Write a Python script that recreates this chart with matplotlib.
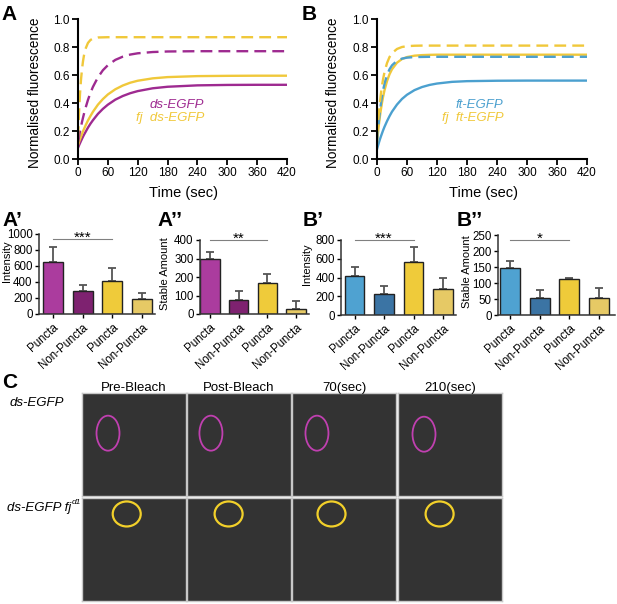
import matplotlib
matplotlib.use('Agg')
import matplotlib.pyplot as plt
from matplotlib.patches import Ellipse
from matplotlib.transforms import offset_copy
import numpy as np

plt.rcParams['font.family'] = ['Liberation Sans', 'DejaVu Sans']

# ---------------- data ----------------
time_s = [0, 2, 4, 6, 8, 10, 12, 15, 20, 25, 30, 40, 50, 60, 75, 90, 105, 120,
          150, 180, 240, 300, 360, 420]

# Panel A
ds_prebleach = [0.080, 0.097, 0.113, 0.129, 0.144, 0.159, 0.173, 0.192, 0.224, 0.252,
                0.277, 0.322, 0.358, 0.388, 0.424, 0.450, 0.470, 0.485, 0.505, 0.516,
                0.526, 0.529, 0.530, 0.530]
fj_ds_prebleach = [0.100, 0.121, 0.141, 0.160, 0.179, 0.197, 0.214, 0.238, 0.275, 0.307,
                   0.337, 0.388, 0.428, 0.461, 0.498, 0.525, 0.545, 0.559, 0.576, 0.585,
                   0.592, 0.594, 0.595, 0.595]
ds_dashed = [0.120, 0.160, 0.197, 0.231, 0.264, 0.294, 0.323, 0.363, 0.422, 0.472,
             0.515, 0.583, 0.634, 0.670, 0.708, 0.731, 0.746, 0.755, 0.764, 0.768,
             0.770, 0.770, 0.770, 0.770]
fj_ds_dashed = [0.150, 0.329, 0.463, 0.565, 0.640, 0.697, 0.740, 0.786, 0.829, 0.850,
                0.860, 0.868, 0.869, 0.870, 0.870, 0.870, 0.870, 0.870, 0.870, 0.870,
                0.870, 0.870, 0.870, 0.870]

# Panel B
ft_solid = [0.070, 0.095, 0.119, 0.142, 0.163, 0.183, 0.203, 0.230, 0.270, 0.306,
            0.338, 0.389, 0.429, 0.459, 0.492, 0.514, 0.529, 0.539, 0.551, 0.556,
            0.559, 0.560, 0.560, 0.560]
ft_dashed = [0.120, 0.207, 0.282, 0.346, 0.400, 0.447, 0.488, 0.538, 0.599, 0.641,
             0.669, 0.702, 0.717, 0.724, 0.728, 0.729, 0.730, 0.730, 0.730, 0.730,
             0.730, 0.730, 0.730, 0.730]
fj_ft_solid = [0.120, 0.191, 0.253, 0.309, 0.358, 0.402, 0.441, 0.491, 0.556, 0.605,
               0.641, 0.688, 0.714, 0.728, 0.738, 0.742, 0.744, 0.745, 0.745, 0.745,
               0.745, 0.745, 0.745, 0.745]
fj_ft_dashed = [0.150, 0.252, 0.337, 0.409, 0.471, 0.523, 0.567, 0.621, 0.685, 0.728,
                0.756, 0.786, 0.800, 0.806, 0.809, 0.810, 0.810, 0.810, 0.810, 0.810,
                0.810, 0.810, 0.810, 0.810]

bar_categories = ['Puncta', 'Non-Puncta', 'Puncta', 'Non-Puncta']
a1_intensity = [650, 290, 410, 187]
a1_intensity_top = [838, 358, 577, 262]
a2_stable = [295, 74, 169, 29]
a2_stable_top = [333, 122, 214, 68]
b1_intensity = [411, 227, 570, 273]
b1_intensity_top = [515, 308, 722, 396]
b2_stable = [146, 52, 113, 52]
b2_stable_top = [169, 78, 115, 85]

col_titles = ['Pre-Bleach', 'Post-Bleach', '70(sec)', '210(sec)']

# ---------------- style ----------------
MAG = '#9E2A90'
YEL = '#F0C83A'
BLU = '#4BA0CF'
a_bar_colors = ['#AB3C9E', '#7E2270', '#EFCB3A', '#E6C965']
b_bar_colors = ['#4FA2D1', '#3B74A4', '#EFCB3A', '#E6C965']

W, H = 617, 604
fig = plt.figure(figsize=(W / 100, H / 100), dpi=100)


def rect(x0, y0, x1, y1):
    return [x0 / W, 1 - y1 / H, (x1 - x0) / W, (y1 - y0) / H]


def curve_panel(r, series, labels):
    ax = fig.add_axes(r)
    for y, c, dashed in series:
        if dashed:
            ax.plot(time_s, y, color=c, lw=1.7, dashes=(5, 2.6), solid_capstyle='butt')
        else:
            ax.plot(time_s, y, color=c, lw=1.7)
    ax.set_xlim(0, 420)
    ax.set_ylim(0, 1.0)
    ax.set_xticks(range(0, 421, 60))
    ax.set_yticks([0, 0.2, 0.4, 0.6, 0.8, 1.0])
    ax.set_yticklabels(['0.0', '0.2', '0.4', '0.6', '0.8', '1.0'])
    for s in ['top', 'right']:
        ax.spines[s].set_visible(False)
    for s in ['left', 'bottom']:
        ax.spines[s].set_linewidth(1.5)
    ax.tick_params(direction='out', length=4, width=1.3, labelsize=8.5, pad=2)
    ax.set_xlabel('Time (sec)', fontsize=10.5)
    ax.set_ylabel('Normalised fluorescence', fontsize=9.8)
    ax.xaxis.set_label_coords(0.507, -0.243)
    ax.yaxis.set_label_coords(-0.208, 0.47)
    ax.xaxis.label.set_va('center')
    ax.yaxis.label.set_va('center')
    (t1, c1), (t2, c2) = labels
    ax.text(0.603, 0.386, t1, color=c1, style='italic', fontsize=9.5,
            ha='right', va='center', transform=ax.transAxes)
    ax.text(0.603, 0.293, t2, color=c2, style='italic', fontsize=9.5,
            ha='right', va='center', transform=ax.transAxes)
    return ax


curve_panel(rect(78, 19, 287, 159),
            [(ds_prebleach, MAG, False), (fj_ds_prebleach, YEL, False),
             (ds_dashed, MAG, True), (fj_ds_dashed, YEL, True)],
            [('ds-EGFP', MAG), ('fj  ds-EGFP', YEL)])
curve_panel(rect(377, 19, 587, 159),
            [(ft_solid, BLU, False), (fj_ft_solid, YEL, False),
             (ft_dashed, BLU, True), (fj_ft_dashed, YEL, True)],
            [('ft-EGFP', BLU), ('fj  ft-EGFP', YEL)])


def bar_panel(r, xlim, vals, tops, colors, ymax, ystep, ylabel, label_xy, stars, line_frac):
    ax = fig.add_axes(r)
    x = np.arange(len(vals))
    vals = np.array(vals, float)
    tops = np.array(tops, float)
    ax.errorbar(x, vals, yerr=[np.zeros(len(vals)), tops - vals], fmt='none',
                ecolor='#555555', elinewidth=1.3, capsize=3.2, capthick=1.3, zorder=1)
    ax.bar(x, vals, width=0.67, color=colors, edgecolor='#222222', linewidth=1.0, zorder=2)
    ax.set_xlim(*xlim)
    ax.set_ylim(0, ymax)
    ax.set_yticks(np.arange(0, ymax + 1e-9, ystep))
    ax.set_xticks(x)
    ax.set_xticklabels(bar_categories, rotation=42, ha='right', rotation_mode='anchor',
                       fontsize=7.8)
    for s in ['top', 'right']:
        ax.spines[s].set_visible(False)
    for s in ['left', 'bottom']:
        ax.spines[s].set_linewidth(1.1)
        ax.spines[s].set_color('#333333')
    ax.tick_params(direction='out', length=3, width=1.0, labelsize=8.3, pad=1.5)
    ax.tick_params(axis='x', pad=2.5)
    ax.set_ylabel(ylabel, fontsize=8)
    ax.yaxis.set_label_coords(*label_xy)
    ax.yaxis.label.set_va('center')
    ly = ymax * line_frac
    ax.plot([0, 2], [ly, ly], color='#808080', lw=0.8, clip_on=False)
    tr = offset_copy(ax.transData, fig=fig, x=0, y=-2.5, units='dots')
    ax.text(1, ly, stars, ha='center', va='baseline', fontsize=11,
            clip_on=False, transform=tr)
    return ax


bar_panel(rect(39, 234, 155, 314), (-0.47, 3.44), a1_intensity, a1_intensity_top,
          a_bar_colors, 1000, 200, 'Intensity', (-0.276, 0.66), '***', 0.94)
bar_panel(rect(200, 240, 309, 314), (-0.35, 3.45), a2_stable, a2_stable_top,
          a_bar_colors, 400, 100, 'Stable Amount', (-0.32, 0.55), '**', 1.0)
bar_panel(rect(341, 240, 456, 315), (-0.46, 3.44), b1_intensity, b1_intensity_top,
          b_bar_colors, 800, 200, 'Intensity', (-0.295, 0.68), '***', 1.0)
bar_panel(rect(498, 235, 615, 315), (-0.40, 3.54), b2_stable, b2_stable_top,
          b_bar_colors, 250, 50, 'Stable Amount', (-0.265, 0.54), '*', 0.94)

# ---------------- panel C (image panels) ----------------
col_left = [82, 187, 292, 398]
row_top = [393, 498]
img_w, img_h = 104, 103
mag_ellipse = [(0.25, 0.61), (0.23, 0.61), (0.24, 0.61), (0.25, 0.60)]
yel_ellipse = [(0.43, 0.845), (0.40, 0.845), (0.38, 0.845), (0.40, 0.845)]
for ci, cx in enumerate(col_left):
    for ri, ry in enumerate(row_top):
        ax = fig.add_axes(rect(cx, ry, cx + img_w, ry + img_h))
        ax.set_facecolor('#333333')
        ax.set_xticks([])
        ax.set_yticks([])
        for s in ax.spines.values():
            s.set_color('#c8c8c8')
            s.set_linewidth(1.0)
        if ri == 0:
            e = Ellipse(mag_ellipse[ci], 23 / img_w, 35 / img_h, transform=ax.transAxes,
                        fill=False, edgecolor='#C040B0', lw=1.3)
        else:
            e = Ellipse(yel_ellipse[ci], 28 / img_w, 25 / img_h, transform=ax.transAxes,
                        fill=False, edgecolor='#F2D02A', lw=1.6)
        ax.add_patch(e)
    fig.text((cx + img_w / 2) / W, 1 - 391 / H, col_titles[ci], ha='center',
             va='baseline', fontsize=9.5)

fig.text(10 / W, 1 - 403 / H, 'ds-EGFP', style='italic', fontsize=9.5, va='center')
t2 = fig.text(7 / W, 1 - 508 / H, 'ds-EGFP fj', style='italic', fontsize=9.5, va='center')
renderer = fig.canvas.get_renderer()
bb = t2.get_window_extent(renderer)
fig.text(bb.x1 / W + 0.001, 1 - 503 / H, 'd1', style='italic', fontsize=6, va='center')

# ---------------- panel letters ----------------
for lab, x, y in [('A', 1, 20), ('B', 302, 20), ('A\u2019', 2, 226), ('A\u2019\u2019', 157, 226),
                  ('B\u2019', 303, 226), ('B\u2019\u2019', 457, 226), ('C', 2, 388)]:
    fig.text(x / W, 1 - y / H, lab, fontsize=15, fontweight='bold', va='baseline')

fig.savefig('out.png', dpi=100)
